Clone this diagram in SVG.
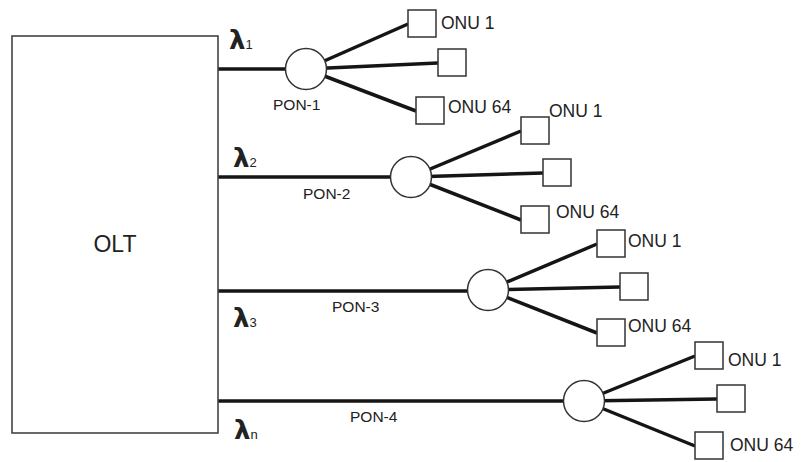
<svg xmlns="http://www.w3.org/2000/svg" width="803" height="462" viewBox="0 0 803 462">
<style>
.fiber{stroke:#151515;stroke-width:3.5;fill:none;stroke-linecap:butt}
.olt{fill:#fff;stroke:#444;stroke-width:1.6}
.split{fill:#fff;stroke:#333;stroke-width:1.5}
.onu{fill:#fff;stroke:#333;stroke-width:1.5}
text{font-family:"Liberation Sans",Arial,sans-serif;fill:#222}
.onut{font-size:17.5px}
.pont{font-size:15.5px}
.lam{font-family:"DejaVu Sans",sans-serif;font-size:26px;font-weight:bold}
.sub{font-family:"Liberation Sans",Arial,sans-serif;font-size:13px;font-weight:normal}
</style>
<rect width="803" height="462" fill="#fff"/>
<g id="connectors">
<line class="fiber" x1="218" y1="69" x2="306" y2="69"/>
<line class="fiber" x1="306" y1="69" x2="408" y2="24"/>
<line class="fiber" x1="306" y1="69" x2="438" y2="63"/>
<line class="fiber" x1="306" y1="69" x2="416" y2="111"/>
<line class="fiber" x1="218" y1="177" x2="411" y2="177"/>
<line class="fiber" x1="411" y1="177" x2="521" y2="131"/>
<line class="fiber" x1="411" y1="177" x2="543" y2="173"/>
<line class="fiber" x1="411" y1="177" x2="521" y2="220"/>
<line class="fiber" x1="218" y1="291" x2="488" y2="291"/>
<line class="fiber" x1="488" y1="290" x2="597" y2="244"/>
<line class="fiber" x1="488" y1="290" x2="620" y2="287"/>
<line class="fiber" x1="488" y1="290" x2="597" y2="333"/>
<line class="fiber" x1="218" y1="401" x2="584" y2="401"/>
<line class="fiber" x1="584" y1="401" x2="695" y2="356"/>
<line class="fiber" x1="584" y1="401" x2="717" y2="399"/>
<line class="fiber" x1="584" y1="401" x2="695" y2="446"/>
</g>
<g id="olt">
<rect class="olt" x="12" y="36" width="206" height="397"/>
<text x="115" y="252" font-size="23" text-anchor="middle">OLT</text>
</g>
<g id="labels">
<text class="lam" x="229" y="49">λ<tspan class="sub">1</tspan></text>
<text class="lam" x="233" y="167">λ<tspan class="sub">2</tspan></text>
<text class="lam" x="233" y="327">λ<tspan class="sub">3</tspan></text>
<text class="lam" x="234" y="439">λ<tspan class="sub">n</tspan></text>
</g>
<g id="pon1">
<circle class="split" cx="306" cy="69" r="20.5"/>
<text class="pont" x="273" y="110">PON-1</text>
<rect id="pon1-onu1" class="onu" x="408" y="10" width="28" height="27"/>
<rect id="pon1-onu2" class="onu" x="438" y="49" width="28" height="27"/>
<rect id="pon1-onu64" class="onu" x="416" y="97" width="28" height="27"/>
<text class="onut" x="441" y="29">ONU 1</text>
<text class="onut" x="448" y="113">ONU 64</text>
</g>
<g id="pon2">
<circle class="split" cx="411" cy="177" r="20.5"/>
<text class="pont" x="303" y="199">PON-2</text>
<rect id="pon2-onu1" class="onu" x="521" y="117" width="28" height="27"/>
<rect id="pon2-onu2" class="onu" x="543" y="159" width="28" height="27"/>
<rect id="pon2-onu64" class="onu" x="521" y="206" width="28" height="27"/>
<text class="onut" x="549" y="117">ONU 1</text>
<text class="onut" x="556" y="218">ONU 64</text>
</g>
<g id="pon3">
<circle class="split" cx="488" cy="290" r="20.5"/>
<text class="pont" x="332" y="312">PON-3</text>
<rect id="pon3-onu1" class="onu" x="597" y="230" width="28" height="27"/>
<rect id="pon3-onu2" class="onu" x="620" y="273" width="28" height="27"/>
<rect id="pon3-onu64" class="onu" x="597" y="319" width="28" height="27"/>
<text class="onut" x="628" y="247">ONU 1</text>
<text class="onut" x="628" y="332">ONU 64</text>
</g>
<g id="pon4">
<circle class="split" cx="584" cy="401" r="20.5"/>
<text class="pont" x="350" y="422">PON-4</text>
<rect id="pon4-onu1" class="onu" x="695" y="342" width="28" height="27"/>
<rect id="pon4-onu2" class="onu" x="717" y="385" width="28" height="27"/>
<rect id="pon4-onu64" class="onu" x="695" y="432" width="28" height="27"/>
<text class="onut" x="728" y="366">ONU 1</text>
<text class="onut" x="730" y="451">ONU 64</text>
</g>
</svg>
